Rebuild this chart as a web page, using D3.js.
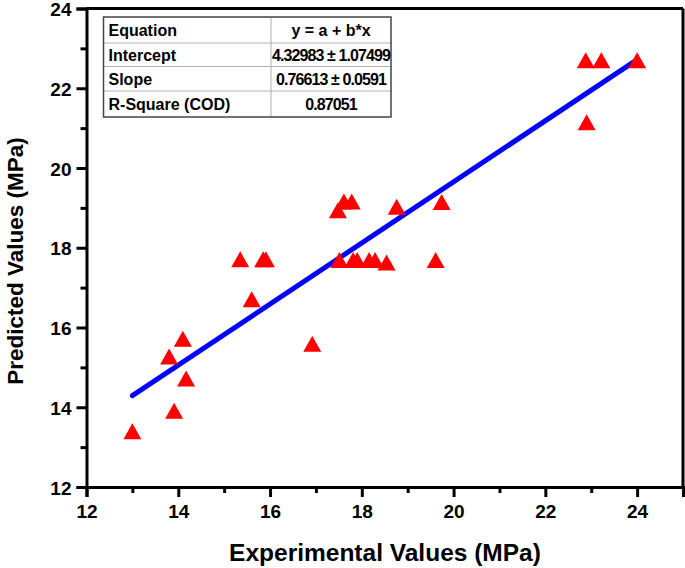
<!DOCTYPE html>
<html>
<head>
<meta charset="utf-8">
<script src="https://cdn.jsdelivr.net/npm/d3@7"></script>
<style>
  html, body { margin: 0; padding: 0; background: #fff; }
  svg { display: block; }
  text { font-family: "Liberation Sans", Arial, sans-serif; font-weight: bold; fill: #000; }
</style>
</head>
<body>
<svg id="chart" width="685" height="568"></svg>
<script>
// ---- Data ----
const experimental = [13.0, 13.80, 13.91, 14.10, 14.17, 15.35, 15.60, 15.85, 15.91, 16.92,
                      17.51, 17.48, 17.61, 17.78, 17.81, 17.90, 18.16, 18.29, 18.54, 18.76,
                      19.61, 19.74, 22.88, 23.22, 24.0, 22.90];
const predicted    = [13.40, 15.27, 13.91, 15.72, 14.72, 17.71, 16.71, 17.71, 17.71, 15.59,
                      17.69, 18.94, 19.16, 19.16, 17.69, 17.69, 17.69, 17.69, 17.63, 19.03,
                      17.69, 19.15, 22.70, 22.70, 22.70, 21.15];
const intercept = 4.32983;
const slope = 0.76613;
const xTicks = [12, 14, 16, 18, 20, 22, 24];
const yTicks = [12, 14, 16, 18, 20, 22, 24];
const xMinor = [13, 15, 17, 19, 21, 23, 25];
const yMinor = [13, 15, 17, 19, 21, 23];
const tableLabels = ["Equation", "Intercept", "Slope", "R-Square (COD)"];
const tableValues = ["y = a + b*x", "4.32983 \u00B1 1.07499", "0.76613 \u00B1 0.0591", "0.87051"];
const xTitle = "Experimental Values (MPa)";
const yTitle = "Predicted Values (MPa)";

// ---- Layout ----
const svg = d3.select("#chart");
const L = 86.5, R = 683, T = 8.5, B = 487;
const x = d3.scaleLinear().domain([12, 25]).range([L, R]);
const y = d3.scaleLinear().domain([12, 24]).range([B, T]);
const AW = 3;

// frame top/right
svg.append("line").attr("x1", L).attr("x2", R).attr("y1", T).attr("y2", T)
  .attr("stroke", "#000").attr("stroke-width", AW);
svg.append("line").attr("x1", R).attr("x2", R).attr("y1", T).attr("y2", B)
  .attr("stroke", "#000").attr("stroke-width", AW);

// axes
const gx = svg.append("g").attr("transform", `translate(0,${B})`)
  .call(d3.axisBottom(x).tickValues(xTicks).tickSize(10).tickPadding(8).tickFormat(d3.format("d")));
const gxm = svg.append("g").attr("transform", `translate(0,${B})`)
  .call(d3.axisBottom(x).tickValues(xMinor).tickSize(6).tickFormat(""));
const gy = svg.append("g").attr("transform", `translate(${L},0)`)
  .call(d3.axisLeft(y).tickValues(yTicks).tickSize(10).tickPadding(5).tickFormat(d3.format("d")));
const gym = svg.append("g").attr("transform", `translate(${L},0)`)
  .call(d3.axisLeft(y).tickValues(yMinor).tickSize(6).tickFormat(""));

[gx, gxm, gy, gym].forEach(g => {
  g.select(".domain").attr("stroke", "#000").attr("stroke-width", AW);
  g.selectAll(".tick line").attr("stroke", "#000").attr("stroke-width", AW);
  g.selectAll(".tick text").style("font-size", "19px").style("font-family", "Liberation Sans, Arial, sans-serif")
    .style("font-weight", "bold").attr("fill", "#000");
});
gy.selectAll(".tick text").attr("dy", "0.37em");
gxm.select(".domain").remove();
gym.select(".domain").remove();

// titles
svg.append("text").attr("x", 385).attr("y", 561)
  .attr("text-anchor", "middle").style("font-size", "24.5px").text(xTitle);
svg.append("text").attr("transform", "translate(15,261) rotate(-90)")
  .attr("text-anchor", "middle").attr("dy", "0.35em")
  .style("font-size", "22.5px").text(yTitle);

// regression line
const xs = d3.extent(experimental);
const plot = svg.append("g");
plot.append("line")
  .attr("x1", x(xs[0])).attr("y1", y(intercept + slope * xs[0]))
  .attr("x2", x(xs[1])).attr("y2", y(intercept + slope * xs[1]))
  .attr("stroke", "#0000FF").attr("stroke-width", 5).attr("stroke-linecap", "round");

// triangles
const tri = "M0,-8L9,8L-9,8Z";
plot.selectAll("path.pt").data(experimental.map((e, i) => [e, predicted[i]]))
  .join("path").attr("class", "pt")
  .attr("d", tri)
  .attr("transform", d => `translate(${x(d[0])},${y(d[1])})`)
  .attr("fill", "#FF0000");

// table
const tL = 103.5, tR = 391, tMid = 271;
const rows = [17, 43, 66.5, 91, 117];
const tg = svg.append("g");
tg.append("rect").attr("x", tL).attr("y", rows[0]).attr("width", tR - tL).attr("height", rows[4] - rows[0])
  .attr("fill", "#fff").attr("stroke", "none");
for (let i = 1; i < rows.length - 1; i++) {
  tg.append("line").attr("x1", tL).attr("x2", tR).attr("y1", rows[i]).attr("y2", rows[i])
    .attr("stroke", "#b0b0b0").attr("stroke-width", 1);
}
tg.append("line").attr("x1", tMid).attr("x2", tMid).attr("y1", rows[0]).attr("y2", rows[4])
  .attr("stroke", "#b0b0b0").attr("stroke-width", 1);
tg.append("rect").attr("x", tL).attr("y", rows[0]).attr("width", tR - tL).attr("height", rows[4] - rows[0])
  .attr("fill", "none").attr("stroke", "#444").attr("stroke-width", 1.5);
tableLabels.forEach((t, i) => {
  const cy = (rows[i] + rows[i + 1]) / 2;
  tg.append("text").attr("x", tL + 5).attr("y", cy + 5.8).style("font-size", "16px").text(t);
  tg.append("text").attr("x", (tMid + tR) / 2).attr("y", cy + 5.8).attr("text-anchor", "middle")
    .style("font-size", "16px").style("letter-spacing", i === 0 ? "0px" : "-0.9px")
    .text(tableValues[i]);
});
</script>
</body>
</html>
